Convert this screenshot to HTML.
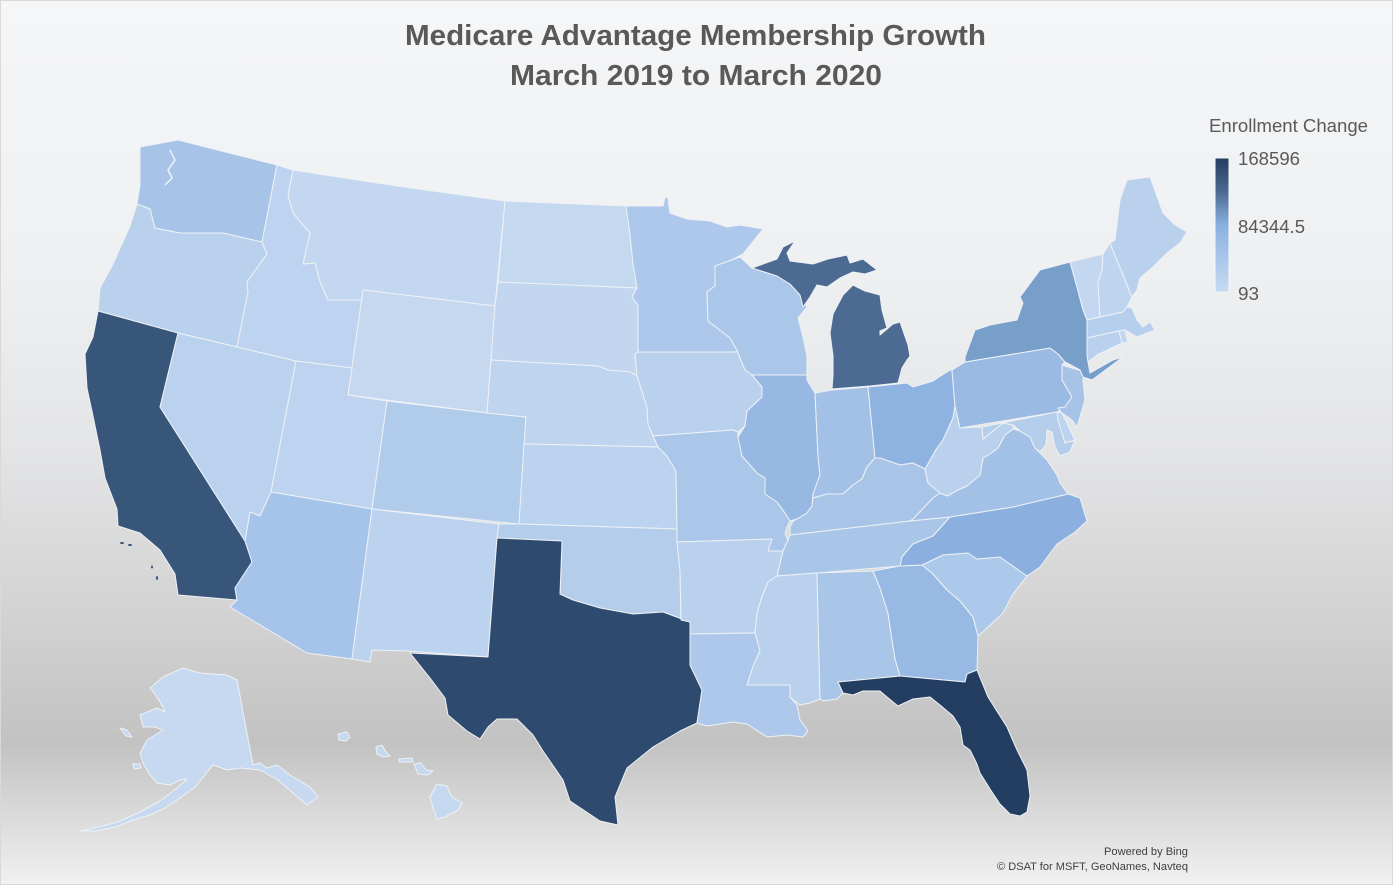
<!DOCTYPE html>
<html><head><meta charset="utf-8"><style>html,body{margin:0;padding:0;background:#fff}body{width:1393px;height:885px;overflow:hidden}svg{display:block}</style></head>
<body>
<svg width="1393" height="885" viewBox="0 0 1393 885" xmlns="http://www.w3.org/2000/svg">
<defs>
<linearGradient id="bg" x1="0" y1="0" x2="0" y2="1">
<stop offset="0" stop-color="#f5f6f8"/>
<stop offset="0.3" stop-color="#eef0f2"/>
<stop offset="0.5" stop-color="#e4e5e7"/>
<stop offset="0.68" stop-color="#d4d4d4"/>
<stop offset="0.84" stop-color="#c2c2c2"/>
<stop offset="1" stop-color="#f1f1f1"/>
</linearGradient>
<linearGradient id="lg" x1="0" y1="0" x2="0" y2="1">
<stop offset="0" stop-color="#233c60"/>
<stop offset="0.25" stop-color="#4b6a91"/>
<stop offset="0.5" stop-color="#8ab0e0"/>
<stop offset="0.75" stop-color="#a9c6ea"/>
<stop offset="1" stop-color="#c6daf2"/>
</linearGradient>
</defs>
<rect x="0" y="0" width="1393" height="885" fill="url(#bg)"/>
<rect x="0.5" y="0.5" width="1392" height="884" fill="none" stroke="#d9d9d9"/>

<g font-family="'Liberation Sans', sans-serif" fill="#595959">
<text x="405" y="45" font-size="29" font-weight="bold" textLength="581" lengthAdjust="spacingAndGlyphs">Medicare Advantage Membership Growth</text>
<text x="510" y="85" font-size="29" font-weight="bold" textLength="372" lengthAdjust="spacingAndGlyphs">March 2019 to March 2020</text>
<text x="1209" y="132" font-size="18" textLength="159" lengthAdjust="spacingAndGlyphs">Enrollment Change</text>
<text x="1238" y="165" font-size="18.5" textLength="62" lengthAdjust="spacingAndGlyphs">168596</text>
<text x="1238" y="233" font-size="18.5" textLength="67" lengthAdjust="spacingAndGlyphs">84344.5</text>
<text x="1238" y="300" font-size="18.5" textLength="21" lengthAdjust="spacingAndGlyphs">93</text>
</g>
<rect x="1215" y="158" width="14" height="134" fill="url(#lg)" stroke="#f4f6f9" stroke-width="1"/>

<g font-family="'Liberation Sans', sans-serif" fill="#404040" font-size="11">
<text x="1104" y="855" textLength="84" lengthAdjust="spacingAndGlyphs">Powered by Bing</text>
<text x="997" y="870" textLength="191" lengthAdjust="spacingAndGlyphs">© DSAT for MSFT, GeoNames, Navteq</text>
</g>

<g stroke="#eef1f5" stroke-width="1" stroke-linejoin="round">
<!-- West -->
<polygon fill="#a7c4e8" points="140,147 178,140 277,165 262,242 223,233 180,233 155,228 150,209 137,204 140,185"/>
<polygon fill="#bad1ee" points="137,204 150,209 155,228 180,233 223,233 262,242 267,254 247,282 248,292 237,347 178,333 98,311 100,288 113,264 130,226"/>
<polygon fill="#38557a" points="98,311 178,333 160,407 245,541 252,562 235,588 237,600 178,595 175,574 160,550 140,533 118,526 117,509 105,478 100,450 93,416 87,388 85,354 93,337"/>
<polygon fill="#bbd2ef" points="178,333 237,347 296,361 271,492 260,516 250,512 245,541 160,407"/>
<polygon fill="#bdd3ef" points="277,165 293,170 288,195 293,213 310,233 303,264 315,263 320,282 328,300 362,300 352,368 296,361 237,347 248,292 247,282 267,254 262,242"/>
<polygon fill="#c3d7f0" points="293,170 397,186 505,201 495,306 363,290 362,300 328,300 320,282 315,263 303,264 310,233 293,213 288,195"/>
<polygon fill="#c5d8f0" points="363,290 495,306 491,360 487,413 348,395"/>
<polygon fill="#bdd3ef" points="296,361 352,368 348,395 387,401 372,509 271,492"/>
<polygon fill="#b1cceb" points="387,401 487,413 526,417 519,524 372,509"/>
<polygon fill="#a6c3e9" points="271,492 372,509 352,659 307,653 230,607 237,600 235,588 252,562 245,541 250,512 260,516"/>
<polygon fill="#bcd3ef" points="372,509 499,524 497,538 488,657 408,651 372,650 370,662 352,659"/>
<!-- Plains -->
<polygon fill="#c4d8f0" points="505,201 626,206 630,235 633,264 637,288 498,282"/>
<polygon fill="#c2d6f0" points="498,282 637,288 632,297 638,305 638,352 635,354 637,376 630,372 608,370 598,366 491,360 495,306"/>
<polygon fill="#bfd4ef" points="491,360 598,366 608,370 630,372 637,376 647,407 648,424 653,436 658,447 524,444 526,417 487,413"/>
<polygon fill="#bcd3ef" points="524,444 658,447 667,456 676,471 677,529 519,524"/>
<polygon fill="#b3cdeb" points="499,524 519,524 677,529 680,571 681,620 690,622 663,612 633,614 600,608 573,600 560,594 562,541 497,538"/>
<polygon fill="#2e4a6e" points="497,538 562,541 560,594 573,600 600,608 633,614 663,612 690,622 690,665 702,690 697,723 680,731 653,747 627,768 615,797 618,825 600,821 570,801 563,780 543,751 533,735 517,719 497,719 488,727 480,739 467,731 448,715 445,698 430,678 410,653 488,657"/>
<!-- Midwest -->
<polygon fill="#adc8ea" points="626,206 663,206 665,197 668,198 670,213 687,219 710,221 727,227 740,225 763,229 743,254 720,266 715,268 715,286 707,292 708,321 730,338 738,352 638,352 638,305 632,297 637,288 633,264 630,235"/>
<polygon fill="#bad1ee" points="638,352 738,352 740,358 745,370 752,375 762,387 762,397 747,411 745,426 738,432 733,430 653,436 648,424 647,407 637,376 635,354"/>
<polygon fill="#aac6e9" points="653,436 733,430 738,432 738,437 742,456 757,473 765,478 765,494 777,502 785,513 790,521 787,527 785,534 788,540 783,551 768,551 772,539 677,542 677,529 676,471 667,456 658,447"/>
<polygon fill="#aac6e9" points="715,266 740,257 752,268 777,276 790,284 800,295 807,307 798,318 803,337 807,356 807,375 752,375 745,370 740,358 738,352 730,338 708,321 707,292 715,286 715,268"/>
<polygon fill="#4d6b92" points="752,268 777,259 783,247 795,241 787,253 790,261 813,264 828,259 847,255 850,263 863,259 877,270 865,274 853,272 840,278 827,287 817,285 810,297 803,307 800,295 790,284 777,276"/>
<polygon fill="#4d6b92" points="833,314 843,295 853,285 865,291 880,295 882,310 887,328 880,331 880,335 893,324 900,322 908,345 910,356 907,360 902,368 898,383 870,386 832,389 833,375 833,356 830,333"/>
<polygon fill="#97b8e3" points="752,375 807,375 807,380 815,393 818,456 820,475 813,494 812,506 807,513 797,519 790,521 785,513 777,502 765,494 765,478 757,473 742,456 738,437 745,426 747,411 762,397 762,387"/>
<polygon fill="#a3c1e7" points="815,393 832,390 868,387 875,458 867,467 862,479 853,485 843,494 827,494 813,498 813,494 820,475 818,456"/>
<polygon fill="#8fb3e1" points="868,387 907,383 913,387 933,381 950,370 952,370 955,406 953,418 943,440 937,448 925,469 913,463 900,465 880,458 875,458"/>
<polygon fill="#a8c5e8" points="790,535 910,521 913,519 933,498 940,493 928,483 925,469 913,463 900,465 880,458 875,458 867,467 862,479 853,485 843,494 827,494 813,498 812,506 807,513 797,519 793,521 790,527"/>
<!-- South -->
<polygon fill="#a9c5e8" points="788,540 790,535 910,521 950,517 933,536 913,544 902,557 900,566 817,573 777,576 780,563 783,551"/>
<polygon fill="#bad1ee" points="677,542 772,539 768,551 783,551 780,563 777,576 768,582 762,597 757,613 755,633 690,634 690,622 681,620 680,571"/>
<polygon fill="#bad1ee" points="777,576 817,573 820,699 810,703 800,705 790,697 790,685 747,685 753,666 760,651 755,633 757,613 762,597 768,582"/>
<polygon fill="#adc8ea" points="690,634 755,633 760,651 753,666 747,685 790,685 790,697 797,705 800,720 808,731 803,737 787,735 767,737 747,724 733,722 707,726 697,723 702,690 690,665"/>
<polygon fill="#a9c5e8" points="817,573 873,571 880,588 888,613 892,640 895,659 900,676 838,682 843,693 837,699 823,701 820,699"/>
<polygon fill="#98b9e4" points="873,571 900,566 922,565 933,574 947,590 960,601 973,617 978,636 977,670 967,674 965,682 900,676 895,659 892,640 888,613 880,588"/>
<polygon fill="#243e62" points="838,682 900,676 965,682 967,674 977,670 988,697 1000,716 1007,727 1017,750 1027,770 1030,796 1027,812 1020,816 1010,814 1000,804 990,789 980,773 977,764 970,750 963,745 960,727 953,716 940,705 930,697 913,699 898,706 887,697 880,691 863,691 853,695 843,693"/>
<polygon fill="#acc8ea" points="922,565 943,555 968,553 977,559 1000,557 1027,576 1013,594 1003,613 987,628 978,636 973,617 960,601 947,590 933,574"/>
<polygon fill="#8bb0e0" points="900,566 902,557 913,544 933,536 950,517 1013,507 1068,494 1080,498 1087,521 1075,532 1057,544 1040,567 1027,576 1000,557 977,559 968,553 943,555 922,565"/>
<polygon fill="#a3c1e7" points="940,493 947,496 958,490 967,486 980,475 983,458 990,454 998,448 1005,435 1013,429 1020,431 1030,437 1035,448 1047,460 1057,475 1060,483 1068,494 1013,507 950,517 910,521 913,519 933,498"/>
<polygon fill="#bad1ee" points="955,406 960,428 982,427 983,439 993,431 1003,423 1013,425 1013,429 1005,435 998,448 990,454 983,458 980,475 967,486 958,490 947,496 940,493 928,483 925,469 937,448 943,440 953,418"/>
<!-- Northeast -->
<polygon fill="#9abae4" points="952,370 965,362 1050,348 1058,354 1065,362 1062,365 1062,380 1072,397 1065,407 1057,412 960,428 955,406"/>
<polygon fill="#b3cdeb" points="982,427 1057,412 1058,420 1065,443 1075,440 1070,452 1060,456 1055,447 1052,432 1047,430 1046,445 1040,452 1035,448 1030,437 1020,431 1013,425 1003,423 993,431 983,439"/>
<polygon fill="#bdd3ef" points="1057,412 1062,413 1067,423 1075,440 1065,443 1058,420"/>
<polygon fill="#a7c4e8" points="1062,365 1085,372 1083,380 1085,400 1080,417 1077,427 1072,420 1062,413 1058,408 1065,407 1072,397 1062,380"/>
<polygon fill="#789fca" points="965,357 975,330 990,325 1017,320 1023,303 1020,297 1040,270 1070,262 1077,287 1083,310 1087,320 1087,338 1088,362 1090,373 1113,360 1123,357 1092,380 1083,377 1080,370 1065,362 1058,354 1050,348 965,362"/>
<polygon fill="#c3d7f0" points="1070,262 1103,254 1102,270 1098,283 1100,317 1087,320 1083,310 1077,287"/>
<polygon fill="#bfd4ef" points="1103,254 1110,243 1132,297 1127,307 1123,312 1100,317 1098,283 1102,270"/>
<polygon fill="#bad1ee" points="1110,243 1115,240 1120,200 1127,180 1150,177 1163,213 1175,225 1187,232 1180,243 1167,253 1153,267 1140,278 1137,290 1132,297"/>
<polygon fill="#b6cfed" points="1087,320 1123,312 1127,307 1132,308 1137,320 1143,327 1150,322 1155,330 1147,333 1137,337 1130,333 1125,330 1119,331 1087,338"/>
<polygon fill="#bad1ee" points="1087,338 1119,331 1122,343 1097,355 1088,362 1087,355"/>
<polygon fill="#c1d6f0" points="1119,331 1125,330 1128,342 1122,343"/>
<!-- Alaska -->
<polygon fill="#c6d9f1" points="150,688 163,677 183,668 200,673 227,675 237,680 253,765 260,763 267,768 277,765 290,775 310,787 318,797 307,805 293,793 278,780 260,770 240,768 227,770 213,765 205,775 195,787 180,798 165,808 150,815 133,820 115,827 95,831 80,831 95,828 118,822 140,812 160,801 177,788 187,779 180,780 170,785 157,783 150,775 143,763 140,753 147,740 163,730 155,727 143,727 140,715 157,708 165,712 160,702 152,690"/>
<polygon fill="#c6d9f1" points="120,728 127,730 132,737 126,736"/>
<polygon fill="#c6d9f1" points="133,764 140,764 141,768 134,769"/>
<!-- Hawaii -->
<polygon fill="#c4d8f0" points="437,784 447,786 452,797 462,803 458,810 445,817 437,819 433,808 430,797"/>
<polygon fill="#c4d8f0" points="414,764 421,763 426,770 433,771 428,775 418,774"/>
<polygon fill="#c4d8f0" points="399,759 412,758 413,762 399,762"/>
<polygon fill="#c4d8f0" points="376,747 382,745 386,752 390,756 383,757 377,754"/>
<polygon fill="#c4d8f0" points="338,734 347,732 350,737 346,741 339,740"/>
</g>
<!-- Channel islands specks -->
<g fill="#38557a">
<ellipse cx="122" cy="543" rx="2" ry="1"/>
<ellipse cx="130" cy="545" rx="2" ry="1"/>
<ellipse cx="152" cy="567" rx="1" ry="1.5"/>
<ellipse cx="157" cy="578" rx="1" ry="2"/>
</g>
<polyline points="170,150 175,160 168,170 172,178 165,185" fill="none" stroke="#eef1f5" stroke-width="1.5"/>
</svg>
</body></html>
